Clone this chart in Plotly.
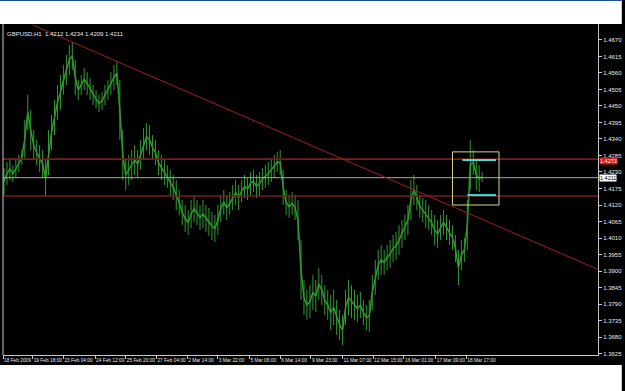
import plotly.graph_objects as go

bar_high = [1.4243,1.4263,1.4277,1.4253,1.4270,1.4287,1.4303,1.4403,1.4487,1.4437,
            1.4370,1.4337,1.4320,1.4303,1.4270,1.4370,1.4420,1.4470,1.4520,1.4553,
            1.4587,1.4620,1.4653,1.4663,1.4603,1.4537,1.4553,1.4577,1.4563,1.4543,
            1.4520,1.4503,1.4487,1.4497,1.4520,1.4537,1.4563,1.4587,1.4600,1.4537,
            1.4370,1.4270,1.4287,1.4303,1.4320,1.4303,1.4337,1.4377,1.4393,1.4387,
            1.4353,1.4337,1.4303,1.4287,1.4270,1.4253,1.4237,1.4220,1.4203,1.4170,
            1.4137,1.4120,1.4103,1.4137,1.4153,1.4137,1.4120,1.4137,1.4120,1.4110,
            1.4097,1.4087,1.4120,1.4153,1.4170,1.4153,1.4163,1.4187,1.4203,1.4187,
            1.4203,1.4220,1.4210,1.4230,1.4237,1.4220,1.4230,1.4243,1.4253,1.4263,
            1.4277,1.4287,1.4297,1.4303,1.4237,1.4170,1.4153,1.4163,1.4153,1.4137,
            1.4003,1.3870,1.3837,1.3853,1.3887,1.3870,1.3910,1.3887,1.3853,1.3837,
            1.3820,1.3837,1.3803,1.3770,1.3753,1.3837,1.3870,1.3853,1.3837,1.3820,
            1.3830,1.3803,1.3787,1.3803,1.3887,1.3937,1.3970,1.3987,1.3970,1.3987,
            1.4003,1.4020,1.4030,1.4053,1.4070,1.4087,1.4120,1.4203,1.4220,1.4187,
            1.4153,1.4143,1.4137,1.4120,1.4103,1.4087,1.4070,1.4087,1.4103,1.4087,
            1.4070,1.4053,1.4020,1.3970,1.4003,1.4010,1.4137,1.4337,1.4303,1.4270,
            1.4253,1.4230]
bar_low = [1.4153,1.4187,1.4203,1.4197,1.4210,1.4230,1.4253,1.4277,1.4370,1.4303,
           1.4270,1.4253,1.4230,1.4210,1.4147,1.4220,1.4303,1.4353,1.4403,1.4437,
           1.4487,1.4520,1.4553,1.4570,1.4487,1.4470,1.4487,1.4503,1.4487,1.4470,
           1.4453,1.4443,1.4430,1.4437,1.4453,1.4470,1.4487,1.4503,1.4520,1.4337,
           1.4203,1.4170,1.4187,1.4203,1.4220,1.4210,1.4237,1.4270,1.4303,1.4287,
           1.4270,1.4253,1.4220,1.4203,1.4187,1.4177,1.4153,1.4137,1.4103,1.4087,
           1.4053,1.4030,1.4020,1.4043,1.4063,1.4053,1.4037,1.4043,1.4030,1.4017,
           1.4003,1.3997,1.4020,1.4063,1.4087,1.4070,1.4087,1.4103,1.4120,1.4103,
           1.4130,1.4143,1.4137,1.4153,1.4163,1.4143,1.4153,1.4170,1.4177,1.4187,
           1.4197,1.4210,1.4230,1.4220,1.4120,1.4087,1.4077,1.4087,1.4070,1.4003,
           1.3803,1.3753,1.3737,1.3743,1.3770,1.3763,1.3803,1.3787,1.3753,1.3737,
           1.3703,1.3720,1.3687,1.3670,1.3653,1.3720,1.3753,1.3743,1.3737,1.3730,
           1.3743,1.3720,1.3703,1.3697,1.3770,1.3820,1.3870,1.3887,1.3887,1.3903,
           1.3910,1.3930,1.3937,1.3953,1.3977,1.4003,1.4020,1.4070,1.4120,1.4103,
           1.4077,1.4063,1.4043,1.4037,1.4020,1.3987,1.3977,1.4003,1.4020,1.4003,
           1.3987,1.3970,1.3930,1.3853,1.3903,1.3930,1.3970,1.4170,1.4220,1.4170,
           1.4163,1.4197]
bar_step = 3  # one sample every 3 hourly bars

tick_bars = [0, 30, 61, 93, 124, 155, 186, 217, 249, 280, 311, 343, 374, 405, 437, 468]
tick_text = ["18 Feb 2009", "19 Feb 18:00", "23 Feb 04:00", "24 Feb 12:00", "25 Feb 20:00",
             "27 Feb 04:00", "2 Mar 14:00", "3 Mar 22:00", "5 Mar 06:00", "6 Mar 14:00",
             "9 Mar 23:00", "11 Mar 07:00", "12 Mar 15:00", "16 Mar 01:00", "17 Mar 09:00",
             "18 Mar 17:00"]
price_ticks = [1.4670, 1.4615, 1.4560, 1.4505, 1.4450, 1.4395, 1.4340, 1.4285, 1.4230,
               1.4175, 1.4120, 1.4065, 1.4010, 1.3955, 1.3900, 1.3845, 1.3790, 1.3735,
               1.3680, 1.3625]

header = "GBPUSD,H1  1.4212 1.4234 1.4209 1.4211"
last_price = 1.4211
resist_price = 1.4273
support_price = 1.4150
trend_pts = ([30, 600], [1.4720, 1.39067])
box_bars = (454, 501)
box_prices = (1.4297, 1.4120)
cyan_upper = ([464, 498], 1.4270)
cyan_lower = ([469, 498], 1.4153)

bar_x = [1 + k * bar_step for k in range(len(bar_high))]

FONT = "Liberation Sans, Arial, sans-serif"
GREEN = "#2f9a2f"
fig = go.Figure()
# vertical high-low bars
vx, vy = [], []
for x, h, l in zip(bar_x, bar_high, bar_low):
    vx += [x, x, None]
    vy += [l, h, None]
fig.add_trace(go.Scatter(x=vx, y=vy, mode="lines", connectgaps=False,
                         line=dict(color=GREEN, width=1), hoverinfo="skip"))
# the path joining the bars
fig.add_trace(go.Scatter(x=bar_x, y=[(h + l) / 2 for h, l in zip(bar_high, bar_low)],
                         mode="lines", line=dict(color=GREEN, width=1.5), hoverinfo="skip"))

y_lo, y_hi = 1.3620, 1.47233
shapes = []
for p, c, w in [(resist_price, "#7a1c1c", 1.6), (support_price, "#7a1c1c", 1.6),
                (last_price, "#a8a8a8", 1)]:
    shapes.append(dict(type="line", xref="paper", yref="y", x0=0, x1=1, y0=p, y1=p,
                       line=dict(color=c, width=w)))
shapes.append(dict(type="line", xref="x", yref="y", x0=trend_pts[0][0], x1=trend_pts[0][1],
                   y0=trend_pts[1][0], y1=trend_pts[1][1], line=dict(color="#a01c1c", width=1)))
shapes.append(dict(type="rect", xref="x", yref="y", x0=box_bars[0], x1=box_bars[1],
                   y0=box_prices[0], y1=box_prices[1], line=dict(color="#d6d69a", width=1)))
for xx, p in [cyan_upper, cyan_lower]:
    shapes.append(dict(type="line", xref="x", yref="y", x0=xx[0], x1=xx[1], y0=p, y1=p,
                       line=dict(color="#3fdede", width=2)))
shapes.append(dict(type="line", xref="paper", yref="paper", x0=0, x1=0, y0=0, y1=1,
                   line=dict(color="#c8c8c8", width=1)))
shapes.append(dict(type="rect", xref="paper", yref="paper", x0=-0.01, x1=1.04,
                   y0=1.0, y1=1.08, fillcolor="white", line=dict(width=0), layer="above"))
shapes.append(dict(type="rect", xref="paper", yref="paper", x0=-0.01, x1=1.04,
                   y0=1.0695, y1=1.08, fillcolor="#1f4f9f", line=dict(width=0), layer="above"))
shapes.append(dict(type="rect", xref="paper", yref="paper", x0=-0.01, x1=1.04,
                   y0=-0.12, y1=-0.0302, fillcolor="white", line=dict(width=0), layer="above"))

annotations = [
    dict(text=header, xref="paper", yref="paper", x=0.004, y=0.985, xanchor="left",
         yanchor="top", showarrow=False, font=dict(family=FONT, size=6, color="#e8e8e8")),
    dict(text="%.4f" % resist_price, xref="paper", yref="y", x=1.0015, y=resist_price,
         xanchor="left", yanchor="top", yshift=2, showarrow=False, bgcolor="#d81818",
         borderpad=0, font=dict(family=FONT, size=5.5, color="#ffffff")),
    dict(text="%.4f" % last_price, xref="paper", yref="y", x=1.0015, y=last_price,
         xanchor="left", yanchor="middle", showarrow=False, bgcolor="#ffffff",
         borderpad=0, font=dict(family=FONT, size=5.5, color="#000000")),
]

fig.update_layout(
    width=625, height=391,
    margin=dict(l=3, r=21, t=24, b=36),
    paper_bgcolor="black", plot_bgcolor="black",
    showlegend=False, hovermode=False,
    shapes=shapes, annotations=annotations,
    xaxis=dict(range=[0, 601], showgrid=False, zeroline=False, showline=True,
               linecolor="#c8c8c8", linewidth=1, ticks="outside", ticklen=3,
               tickcolor="#c8c8c8", tickvals=tick_bars, ticktext=tick_text,
               tickangle=0, ticklabelposition="outside right",
               tickfont=dict(family=FONT, size=4.8, color="#e8e8e8")),
    yaxis=dict(range=[y_lo, y_hi], side="right", showgrid=False, zeroline=False,
               showline=True, linecolor="#c8c8c8", linewidth=1, ticks="outside",
               ticklen=3, tickcolor="#c8c8c8", tickvals=price_ticks,
               ticktext=["%.4f" % v for v in price_ticks],
               tickfont=dict(family=FONT, size=6, color="#e8e8e8")),
)

fig.write_html("out.html")
